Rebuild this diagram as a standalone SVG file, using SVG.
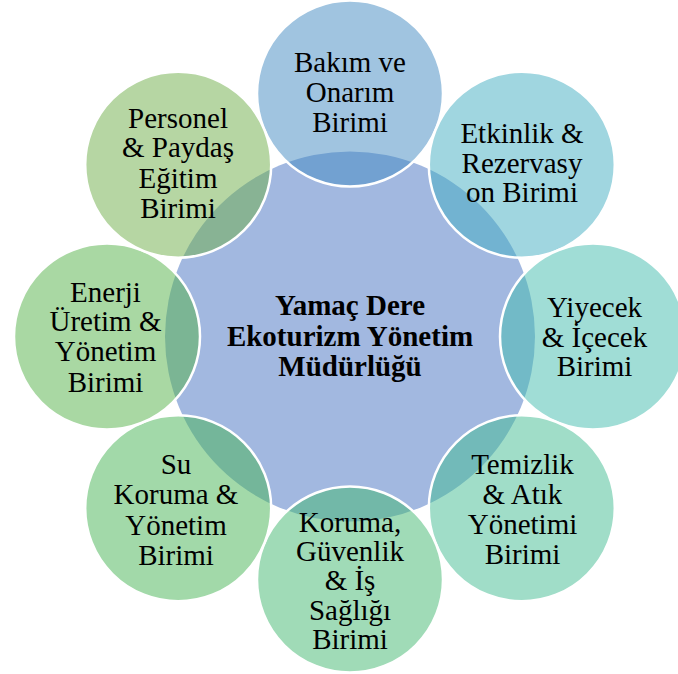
<svg xmlns="http://www.w3.org/2000/svg" width="678" height="674" viewBox="0 0 678 674">
<style>
.o{fill-opacity:0.5;stroke:#fff;stroke-width:2.5}
text{font-family:'Liberation Serif','DejaVu Serif',serif;font-size:29px;fill:#000;text-anchor:middle}
.b{font-weight:bold}
</style>
<rect width="678" height="674" fill="#fff"/>
<g id="center"><circle cx="350" cy="336.5" r="185" fill="#A2B8E0"/></g>
<g id="bakim"><circle class="o" cx="350" cy="93.5" r="93" fill="#4189C1"/>
<text font-family="Liberation Serif" x="350" y="72">Bakım ve<tspan x="350" y="102">Onarım</tspan><tspan x="350" y="132">Birimi</tspan></text></g>
<g id="etkinlik"><circle class="o" cx="521.8" cy="164.7" r="93" fill="#41ADC1"/>
<text x="522" y="143">Etkinlik &amp;<tspan x="522" y="172.5">Rezervasy</tspan><tspan x="522" y="202">on Birimi</tspan></text></g>
<g id="yiyecek"><circle class="o" cx="593" cy="336.5" r="93" fill="#41BBAD"/>
<text x="594.5" y="316.5">Yiyecek<tspan x="594.5" y="346.5">&amp; İçecek</tspan><tspan x="594.5" y="376">Birimi</tspan></text></g>
<g id="temizlik"><circle class="o" cx="521.8" cy="508.3" r="93" fill="#41BB91"/>
<text x="522.5" y="473.5">Temizlik<tspan x="522.5" y="503.5">&amp; Atık</tspan><tspan x="522.5" y="534">Yönetimi</tspan><tspan x="522.5" y="564">Birimi</tspan></text></g>
<g id="koruma"><circle class="o" cx="350" cy="579.5" r="93" fill="#41B76F"/>
<text x="350" y="532">Koruma,<tspan x="350" y="561">Güvenlik</tspan><tspan x="350" y="590">&amp; İş</tspan><tspan x="350" y="620">Sağlığı</tspan><tspan x="350" y="649">Birimi</tspan></text></g>
<g id="su"><circle class="o" cx="178.2" cy="508.3" r="93" fill="#45B353"/>
<text x="176" y="473.5">Su<tspan x="176" y="504">Koruma &amp;</tspan><tspan x="176" y="535">Yönetim</tspan><tspan x="176" y="565">Birimi</tspan></text></g>
<g id="enerji"><circle class="o" cx="107" cy="336.5" r="93" fill="#53B147"/>
<text x="105.5" y="301.5">Enerji<tspan x="105.5" y="331">Üretim &amp;</tspan><tspan x="105.5" y="361">Yönetim</tspan><tspan x="105.5" y="391.5">Birimi</tspan></text></g>
<g id="personel"><circle class="o" cx="178.2" cy="164.7" r="93" fill="#6DAD47"/>
<text x="178" y="127.5">Personel<tspan x="178" y="157">&amp; Paydaş</tspan><tspan x="178" y="188">Eğitim</tspan><tspan x="178" y="218">Birimi</tspan></text></g>
<g id="center-label"><text class="b" x="350" y="315">Yamaç Dere<tspan x="350" y="346">Ekoturizm Yönetim</tspan><tspan x="350" y="376">Müdürlüğü</tspan></text></g>
<g id="connectors"></g>
</svg>
